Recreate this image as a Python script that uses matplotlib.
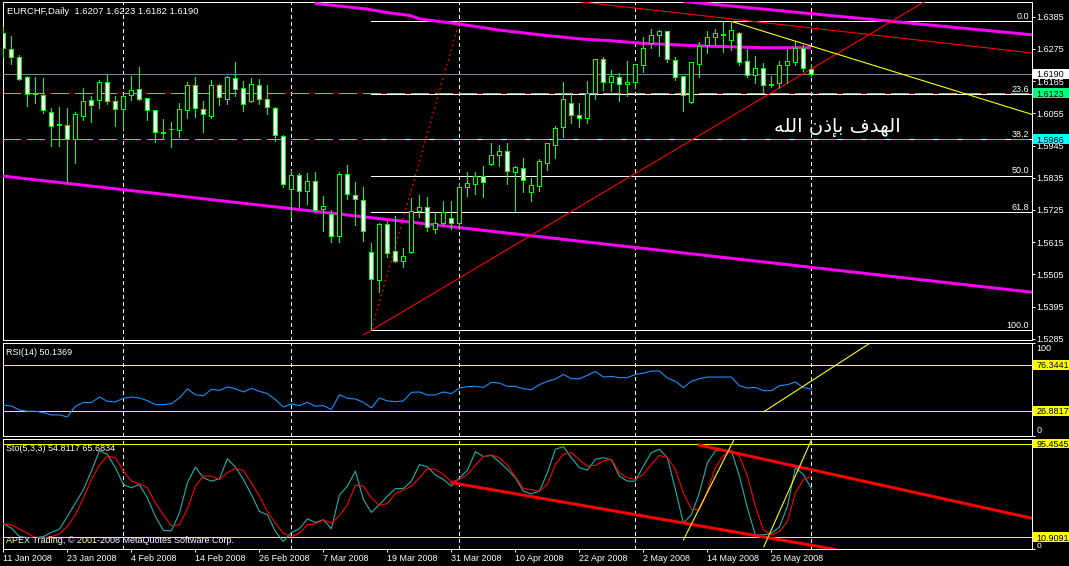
import numpy as np
import matplotlib
matplotlib.use("Agg")
import matplotlib.pyplot as plt
from matplotlib.patches import Rectangle
from matplotlib.transforms import blended_transform_factory

W, H, DPI = 1069, 566, 100
PX = 72.0 / DPI  # points per pixel

plt.rcParams['font.family'] = ['Liberation Sans', 'DejaVu Sans']
plt.rcParams['lines.scale_dashes'] = False
plt.rcParams['font.size'] = 6.5

# ---------------- data ----------------
title_text = "EURCHF,Daily  1.6207 1.6223 1.6182 1.6190"
rsi_title = "RSI(14) 50.1369"
sto_title = "Sto(5,3,3) 54.8117 65.6834"
copyright_text = "APEX Trading, \u00a9 2001-2008 MetaQuotes Software Corp."
target_text = "الهدف بإذن الله"

date_labels = ["11 Jan 2008", "23 Jan 2008", "4 Feb 2008", "14 Feb 2008", "26 Feb 2008",
               "7 Mar 2008", "19 Mar 2008", "31 Mar 2008", "10 Apr 2008", "22 Apr 2008",
               "2 May 2008", "14 May 2008", "26 May 2008"]
date_label_bars = [0, 8, 16, 24, 32, 40, 48, 56, 64, 72, 80, 88, 96]
month_separator_bars = [15, 36, 57, 79, 101]

opens = [1.6328, 1.6273, 1.6248, 1.6178, 1.6122, 1.6116, 1.6058, 1.6017, 1.6014, 1.5966,
         1.6047, 1.6100, 1.6099, 1.6161, 1.6096, 1.6068, 1.6116, 1.6137, 1.6106, 1.6065,
         1.5990, 1.6001, 1.5999, 1.6067, 1.6150, 1.6068, 1.6047, 1.6150, 1.6105, 1.6174,
         1.6140, 1.6098, 1.6150, 1.6103, 1.6072, 1.5976, 1.5798, 1.5843, 1.5791, 1.5823,
         1.5727, 1.5712, 1.5637, 1.5847, 1.5775, 1.5758, 1.5580, 1.5485, 1.5676, 1.5584,
         1.5552, 1.5583, 1.5723, 1.5734, 1.5661, 1.5679, 1.5696, 1.5682, 1.5804, 1.5815,
         1.5841, 1.5883, 1.5914, 1.5928, 1.5856, 1.5867, 1.5787, 1.5808, 1.5886, 1.5948,
         1.6009, 1.6089, 1.6048, 1.6040, 1.6123, 1.6242, 1.6161, 1.6180, 1.6154, 1.6161,
         1.6219, 1.6294, 1.6324, 1.6335, 1.6236, 1.6181, 1.6095, 1.6225, 1.6287, 1.6314,
         1.6324, 1.6306, 1.6328, 1.6232, 1.6187, 1.6208, 1.6154, 1.6157, 1.6219, 1.6229,
         1.6277, 1.6207]
highs = [1.6351, 1.6319, 1.6254, 1.6181, 1.6178, 1.6174, 1.6073, 1.6076, 1.6073, 1.6059,
         1.6141, 1.6115, 1.6169, 1.6186, 1.6113, 1.6117, 1.6182, 1.6213, 1.6108, 1.6067,
         1.6035, 1.6026, 1.6090, 1.6162, 1.6179, 1.6097, 1.6169, 1.6155, 1.6181, 1.6230,
         1.6164, 1.6174, 1.6172, 1.6151, 1.6075, 1.5981, 1.5860, 1.5850, 1.5851, 1.5854,
         1.5773, 1.5725, 1.5854, 1.5878, 1.5820, 1.5803, 1.5612, 1.5680, 1.5688, 1.5703,
         1.5596, 1.5766, 1.5776, 1.5769, 1.5719, 1.5756, 1.5756, 1.5818, 1.5854, 1.5854,
         1.5875, 1.5952, 1.5947, 1.5952, 1.5875, 1.5902, 1.5833, 1.5898, 1.5955, 1.6012,
         1.6162, 1.6122, 1.6090, 1.6165, 1.6242, 1.6246, 1.6203, 1.6191, 1.6233, 1.6225,
         1.6314, 1.6343, 1.6339, 1.6337, 1.6246, 1.6184, 1.6231, 1.6300, 1.6335, 1.6343,
         1.6366, 1.6369, 1.6331, 1.6274, 1.6249, 1.6227, 1.6181, 1.6233, 1.6274, 1.6300,
         1.6287, 1.6223]
lows = [1.6246, 1.6223, 1.6169, 1.6080, 1.6091, 1.6057, 1.5944, 1.5944, 1.5820, 1.5886,
        1.6032, 1.6026, 1.6074, 1.6088, 1.6013, 1.6000, 1.6101, 1.6101, 1.6032, 1.5958,
        1.5966, 1.5941, 1.5975, 1.6040, 1.6043, 1.5992, 1.6040, 1.6084, 1.6088, 1.6115,
        1.6064, 1.6095, 1.6088, 1.6054, 1.5961, 1.5804, 1.5700, 1.5736, 1.5745, 1.5720,
        1.5654, 1.5617, 1.5617, 1.5762, 1.5674, 1.5620, 1.5315, 1.5446, 1.5563, 1.5547,
        1.5531, 1.5579, 1.5702, 1.5654, 1.5647, 1.5672, 1.5661, 1.5659, 1.5773, 1.5779,
        1.5770, 1.5878, 1.5876, 1.5815, 1.5720, 1.5786, 1.5757, 1.5791, 1.5861, 1.5902,
        1.5975, 1.6023, 1.6009, 1.6023, 1.6104, 1.6134, 1.6132, 1.6098, 1.6115, 1.6143,
        1.6197, 1.6277, 1.6252, 1.6231, 1.6170, 1.6064, 1.6091, 1.6179, 1.6262, 1.6287,
        1.6265, 1.6272, 1.6221, 1.6180, 1.6159, 1.6129, 1.6146, 1.6140, 1.6157, 1.6221,
        1.6200, 1.6182]
closes = [1.6277, 1.6248, 1.6173, 1.6122, 1.6120, 1.6067, 1.6013, 1.6016, 1.5966, 1.6051,
          1.6097, 1.6085, 1.6162, 1.6096, 1.6068, 1.6113, 1.6133, 1.6105, 1.6065, 1.5990,
          1.5989, 1.6000, 1.6068, 1.6150, 1.6072, 1.6051, 1.6150, 1.6109, 1.6178, 1.6137,
          1.6088, 1.6154, 1.6103, 1.6075, 1.5980, 1.5812, 1.5843, 1.5789, 1.5823, 1.5726,
          1.5737, 1.5637, 1.5847, 1.5778, 1.5761, 1.5652, 1.5490, 1.5676, 1.5579, 1.5552,
          1.5567, 1.5720, 1.5734, 1.5666, 1.5679, 1.5718, 1.5679, 1.5802, 1.5816, 1.5841,
          1.5822, 1.5913, 1.5928, 1.5859, 1.5870, 1.5826, 1.5809, 1.5891, 1.5952, 1.6004,
          1.6103, 1.6048, 1.6040, 1.6126, 1.6239, 1.6161, 1.6183, 1.6154, 1.6161, 1.6222,
          1.6277, 1.6324, 1.6335, 1.6239, 1.6178, 1.6116, 1.6229, 1.6286, 1.6314, 1.6328,
          1.6325, 1.6338, 1.6229, 1.6187, 1.6208, 1.6150, 1.6150, 1.6219, 1.6232, 1.6277,
          1.6211, 1.6190]

rsi_values = [32.9, 32.2, 27.9, 26.5, 26.5, 25.1, 22.6, 22.6, 20.5, 31.9,
              35.8, 35.8, 41.8, 37.2, 36.5, 40.4, 41.8, 40.8, 37.9, 33.6,
              33.6, 34.7, 40.8, 50.4, 44.3, 43.2, 50.0, 48.9, 52.5, 50.7,
              47.2, 51.1, 47.9, 45.4, 39.0, 31.2, 34.4, 32.6, 36.1, 31.9,
              32.6, 28.3, 44.3, 40.4, 39.7, 36.1, 30.1, 40.8, 37.6, 36.8,
              37.6, 46.8, 47.2, 44.0, 44.0, 47.2, 45.4, 51.4, 52.9, 53.2,
              52.1, 57.5, 56.8, 53.2, 53.2, 50.7, 49.7, 55.0, 58.6, 61.0,
              66.0, 61.4, 61.4, 65.0, 69.2, 63.2, 63.9, 62.5, 62.5, 66.0,
              67.4, 69.6, 69.6, 62.1, 58.6, 52.1, 58.6, 61.4, 63.2, 63.2,
              63.2, 63.2, 53.9, 51.4, 52.1, 48.6, 48.6, 53.9, 55.0, 57.8,
              52.1, 50.1369]
stoch_k = [23.0, 19.1, 11.5, 10.6, 10.6, 11.5, 15.2, 18.2, 29.7, 41.8,
           53.9, 70.6, 88.8, 85.8, 73.6, 58.5, 55.5, 58.5, 46.4, 29.7,
           17.0, 16.7, 32.7, 60.0, 74.2, 64.5, 61.5, 63.6, 81.8, 74.2,
           63.0, 49.4, 34.2, 31.2, 16.1, 7.0, 15.2, 18.5, 27.6, 24.2,
           26.7, 18.5, 48.8, 57.0, 70.6, 44.8, 33.3, 40.3, 47.9, 54.8,
           54.8, 61.5, 76.4, 74.5, 67.0, 63.0, 57.0, 64.5, 71.2, 88.2,
           83.6, 84.8, 78.8, 72.1, 64.5, 52.4, 50.0, 52.4, 69.1, 90.3,
           92.7, 82.7, 73.6, 71.5, 81.2, 82.7, 80.6, 66.1, 61.5, 61.5,
           75.2, 87.3, 90.3, 82.7, 53.9, 23.6, 31.2, 50.9, 78.2, 88.8,
           89.4, 88.8, 66.1, 37.3, 13.0, 13.0, 14.5, 20.0, 38.8, 73.6,
           67.6, 54.8117]
stoch_d = [23.0, 22.1, 18.2, 14.5, 10.6, 10.3, 11.5, 13.9, 20.6, 31.2,
           46.4, 63.0, 75.8, 84.2, 82.7, 70.6, 61.5, 59.1, 55.5, 41.8,
           31.2, 21.2, 22.1, 36.4, 57.0, 66.1, 66.1, 63.0, 69.1, 73.0,
           71.2, 60.0, 47.9, 34.2, 23.6, 14.5, 11.5, 14.5, 22.1, 23.0,
           26.7, 23.6, 30.3, 40.3, 57.9, 57.0, 46.4, 39.7, 41.2, 50.3,
           53.3, 57.0, 64.5, 72.7, 72.1, 67.6, 60.9, 63.0, 67.6, 75.8,
           83.6, 85.1, 82.7, 75.8, 65.4, 54.8, 53.9, 52.4, 58.5, 76.7,
           85.8, 87.3, 80.6, 75.2, 75.8, 79.7, 81.2, 69.1, 64.5, 63.0,
           67.6, 76.7, 84.8, 82.7, 72.1, 50.9, 35.8, 35.8, 52.4, 73.6,
           84.8, 88.8, 84.2, 66.1, 38.8, 17.6, 13.0, 16.1, 25.2, 50.9,
           63.0, 65.6834]

price_ticks = [1.6385, 1.6275, 1.6165, 1.6055, 1.5945, 1.5835, 1.5725, 1.5615, 1.5505, 1.5395, 1.5285]

# Fibonacci retracement anchors (bar, price) and levels
fib_bars = [46, 57]
fib_prices = [1.5315, 1.6370]
fib_levels = [0.0, 23.6, 38.2, 50.0, 61.8, 100.0]
level_green = 1.6123
level_cyan = 1.5966

# drawn objects (bar index, value)
magenta_lower_bars, magenta_lower_prices = [-0.2, 128.6], [1.5841, 1.5444]
magenta_upper_bars, magenta_upper_prices = [85.0, 128.6], [1.6437, 1.6323]
magenta_curve_bars = [38.95, 42.1, 45.45, 47.95, 50.8, 52.1, 56.95, 62.05, 67.1, 72.1, 75.8, 79.95, 87.1, 94.9, 100.95]
magenta_curve_prices = [1.6430, 1.6421, 1.6411, 1.6399, 1.6389, 1.6377, 1.6360, 1.6339, 1.6323, 1.6309, 1.6303, 1.6294, 1.6285, 1.6279, 1.6279]
red_top_bars, red_top_prices = [72.0, 128.6], [1.6436, 1.6261]
red_rise_bars, red_rise_prices = [45.0, 116.0], [1.5298, 1.6450]
yellow_main_bars, yellow_main_prices = [91.0, 128.6], [1.6369, 1.6051]

rsi_levels = [76.3441, 26.8817]
rsi_trend_bars, rsi_trend_values = [95.05, 108.15], [26.0, 98.6]
sto_levels = [95.4545, 10.9091]
sto_red_low_bars, sto_red_low_values = [56.05, 104.0], [60.1, -0.1]
sto_red_up_bars, sto_red_up_values = [87.0, 128.6], [94.1, 28.0]
sto_yellow1_bars, sto_yellow1_values = [85.0, 91.3], [8.4, 98.6]
sto_yellow2_bars, sto_yellow2_values = [95.05, 101.0], [2.3, 98.6]

# ---------------- helpers ----------------
ARABIC_FORMS = {  # isolated, final, initial, medial
    'ا': ('\uFE8D', '\uFE8E', None, None),
    'إ': ('\uFE87', '\uFE88', None, None),
    'د': ('\uFEA9', '\uFEAA', None, None),
    'ذ': ('\uFEAB', '\uFEAC', None, None),
    'ل': ('\uFEDD', '\uFEDE', '\uFEDF', '\uFEE0'),
    'ه': ('\uFEE9', '\uFEEA', '\uFEEB', '\uFEEC'),
    'ف': ('\uFED1', '\uFED2', '\uFED3', '\uFED4'),
    'ب': ('\uFE8F', '\uFE90', '\uFE91', '\uFE92'),
    'ن': ('\uFEE5', '\uFEE6', '\uFEE7', '\uFEE8'),
}


def shape_arabic(s):
    out = []
    for i, ch in enumerate(s):
        f = ARABIC_FORMS.get(ch)
        if f is None:
            out.append(ch)
            continue
        prev = s[i - 1] if i > 0 else ''
        nxt = s[i + 1] if i + 1 < len(s) else ''
        pj = prev in ARABIC_FORMS and ARABIC_FORMS[prev][2] is not None
        nj = nxt in ARABIC_FORMS and f[2] is not None
        if pj and nj:
            out.append(f[3])
        elif pj:
            out.append(f[1])
        elif nj:
            out.append(f[2])
        else:
            out.append(f[0])
    return ''.join(out)[::-1]


fig = plt.figure(figsize=(W / DPI, H / DPI), dpi=DPI, facecolor='black')

X0, X1 = 2.5, 1031.7


def px_axes(y0, y1):
    a = fig.add_axes([X0 / W, 1 - y1 / H, (X1 - X0) / W, (y1 - y0) / H], facecolor='black')
    for sp in a.spines.values():
        sp.set_color('white')
        sp.set_linewidth(PX)
    a.set_xlim(-0.1125, 128.54)
    a.tick_params(axis='x', bottom=False, labelbottom=False)
    a.tick_params(axis='y', left=False, labelleft=False, right=True, labelright=True,
                  direction='out', length=3 * PX, width=PX, colors='white', pad=1.3,
                  labelsize=6.5)
    return a


ax = px_axes(2.3, 340.0)
ax_rsi = px_axes(342.7, 436.0)
ax_sto = px_axes(438.5, 549.3)

ax.set_ylim(1.5281, 1.6434)
ax_rsi.set_ylim(0, 100)
ax_sto.set_ylim(0, 100)

GREEN = '#00ff00'
LBOX_X = (1033.3 - X0) / (X1 - X0)
LBOX_W = (1069.5 - 1033.3) / (X1 - X0)
LTXT_X = (1036.7 - X0) / (X1 - X0)


def value_box(axis, value, label, fc, units_per_px, hpx=10.0):
    tr = blended_transform_factory(axis.transAxes, axis.transData)
    h = hpx * units_per_px
    axis.add_patch(Rectangle((LBOX_X, value - h / 2), LBOX_W, h, transform=tr,
                             facecolor=fc, edgecolor='none', clip_on=False, zorder=10))
    axis.text(LTXT_X, value, label, transform=tr, color='black', fontsize=6.5,
              ha='left', va='center_baseline', clip_on=False, zorder=11)


# ---------------- main panel ----------------
bars = np.arange(len(opens))
o = np.array(opens)
c = np.array(closes)
bull = c > o
xr = ax.get_xlim()[1]

# fib level lines (white) and dotted trend line
fib_lo, fib_hi = fib_prices
for lvl in fib_levels:
    p = fib_hi - lvl / 100.0 * (fib_hi - fib_lo)
    ax.hlines(p, fib_bars[0], xr, color='white', lw=PX, antialiased=False, zorder=2)
    ax.annotate(f"{lvl:.1f}", xy=(xr, p), xytext=(-2.5 * PX, 2.2 * PX), textcoords='offset points',
                ha='right', va='baseline', color='white', fontsize=6.5, zorder=6)
ax.plot(fib_bars, fib_prices, color='red', lw=1.2 * PX, dashes=(2 * PX, 3 * PX), zorder=3)

ax.axhline(level_green, color='#00ff7f', lw=PX, dashes=(18 * PX, 6 * PX), antialiased=False, zorder=2.6)
ax.axhline(level_cyan, color='#00e5ee', lw=PX, dashes=(18 * PX, 6 * PX), antialiased=False, zorder=2.6)
ax.axhline(closes[-1], color='#778899', lw=PX, antialiased=False, zorder=2.6)

for b in month_separator_bars:
    for a in (ax, ax_rsi, ax_sto):
        a.axvline(b, color='white', lw=PX, dashes=(3 * PX, 3 * PX), antialiased=False, zorder=1.5)

# trend lines
ax.plot(magenta_lower_bars, magenta_lower_prices, color='#ff00ff', lw=3 * PX, zorder=3, solid_capstyle='butt')
ax.plot(magenta_upper_bars, magenta_upper_prices, color='#ff00ff', lw=3 * PX, zorder=3, solid_capstyle='butt')
ax.plot(magenta_curve_bars, magenta_curve_prices, color='#ff00ff', lw=3 * PX, zorder=3, solid_capstyle='butt')
ax.plot(red_top_bars, red_top_prices, color='red', lw=1.1 * PX, zorder=3)
ax.plot(red_rise_bars, red_rise_prices, color='red', lw=1.1 * PX, zorder=3)
ax.plot(yellow_main_bars, yellow_main_prices, color='yellow', lw=1.1 * PX, zorder=3)

# candles
ax.vlines(bars, lows, highs, color=GREEN, lw=PX, antialiased=False, zorder=4)
ax.bar(bars, np.abs(c - o), 0.5, bottom=np.minimum(o, c),
       color=np.where(bull, 'black', 'white'), edgecolor=GREEN, linewidth=PX,
       antialiased=False, zorder=5)

ax.set_yticks(price_ticks)
ax.set_yticklabels([f"{t:.4f}" for t in price_ticks])

ax.text(0.0041, 0.974, title_text, transform=ax.transAxes, color='white', fontsize=6.8,
        ha='left', va='center')
ax.text(104.3, 1.6008, shape_arabic(target_text), color='white', fontsize=14,
        family=['DejaVu Sans'], ha='center', va='center', zorder=6)

value_box(ax, closes[-1], f"{closes[-1]:.4f}", 'white', 1 / 2930.0)
value_box(ax, level_green, f"{level_green:.4f}", '#00ff7f', 1 / 2930.0)
value_box(ax, level_cyan, f"{level_cyan:.4f}", '#00ffff', 1 / 2930.0)

# ---------------- RSI panel ----------------
ax_rsi.plot(bars, rsi_values, color='#1e90ff', lw=1.1 * PX, zorder=3)
for lv in rsi_levels:
    ax_rsi.axhline(lv, color='yellow', lw=PX, antialiased=False, zorder=2)
ax_rsi.plot(rsi_trend_bars, rsi_trend_values, color='yellow', lw=1.1 * PX, zorder=3)
ax_rsi.set_yticks([100] + rsi_levels + [0])
ax_rsi.set_yticklabels(['', '', '', ''])
tr_r = blended_transform_factory(ax_rsi.transAxes, ax_rsi.transData)
ax_rsi.annotate("100", xy=(LTXT_X, 100), xycoords=tr_r, xytext=(0, -1.5 * PX), textcoords='offset points',
                color='white', fontsize=6.5, ha='left', va='top', annotation_clip=False)
ax_rsi.annotate("0", xy=(LTXT_X, 0), xycoords=tr_r, xytext=(0, 1.0 * PX), textcoords='offset points',
                color='white', fontsize=6.5, ha='left', va='bottom', annotation_clip=False)
for lv in rsi_levels:
    value_box(ax_rsi, lv, f"{lv:.4f}", 'yellow', 1 / 0.933)
ax_rsi.text(0.0036, 0.893, rsi_title, transform=ax_rsi.transAxes, color='white', fontsize=6.5,
            ha='left', va='center')

# ---------------- Stochastic panel ----------------
for lv in sto_levels:
    ax_sto.axhline(lv, color='yellow', lw=PX, antialiased=False, zorder=2)
ax_sto.plot(bars, stoch_k, color='#20b2aa', lw=1.1 * PX, zorder=3)
ax_sto.plot(bars, stoch_d, color='red', lw=1.1 * PX, zorder=3)
ax_sto.plot(sto_red_low_bars, sto_red_low_values, color='red', lw=3 * PX, zorder=4)
ax_sto.plot(sto_red_up_bars, sto_red_up_values, color='red', lw=3 * PX, zorder=4)
ax_sto.plot(sto_yellow1_bars, sto_yellow1_values, color='yellow', lw=1.1 * PX, zorder=4)
ax_sto.plot(sto_yellow2_bars, sto_yellow2_values, color='yellow', lw=1.1 * PX, zorder=4)
ax_sto.set_yticks(sto_levels + [0])
ax_sto.set_yticklabels(['', '', ''])
tr_s = blended_transform_factory(ax_sto.transAxes, ax_sto.transData)
ax_sto.annotate("0", xy=(LTXT_X, 0), xycoords=tr_s, xytext=(0, -0.5 * PX), textcoords='offset points',
                color='white', fontsize=6.0, ha='left', va='bottom', annotation_clip=False)
for lv in sto_levels:
    value_box(ax_sto, lv, f"{lv:.4f}", 'yellow', 1 / 1.108, hpx=9.5)
ax_sto.text(0.0036, 0.912, sto_title, transform=ax_sto.transAxes, color='white', fontsize=6.5,
            ha='left', va='center')
ax_sto.text(0.0036, 0.075, copyright_text, transform=ax_sto.transAxes, color='white', fontsize=6.5,
            ha='left', va='center', zorder=6)

ax_sto.tick_params(axis='x', bottom=True, labelbottom=True, direction='out', length=3 * PX,
                   width=PX, colors='white', pad=1.0, labelsize=6.5)
ax_sto.set_xticks(date_label_bars)
ax_sto.set_xticklabels(date_labels, ha='left')

fig.savefig('out.png', dpi=DPI, facecolor='black')
